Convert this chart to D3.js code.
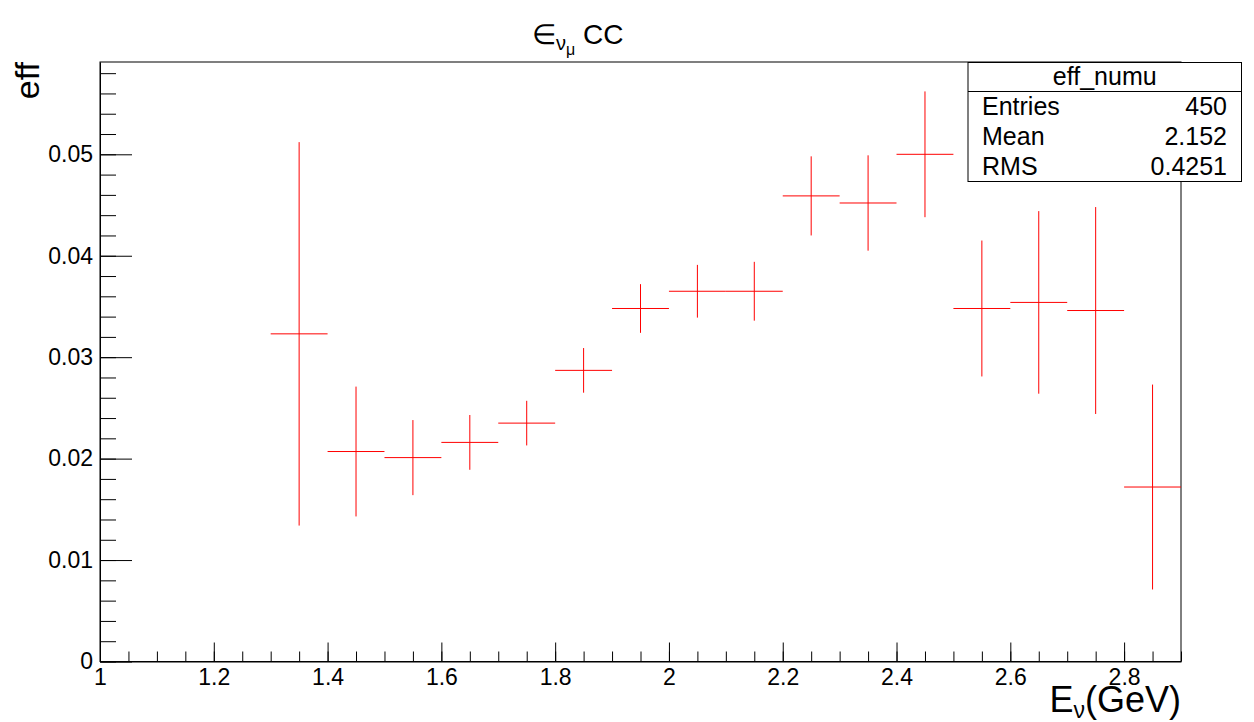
<!DOCTYPE html>
<html>
<head>
<meta charset="utf-8">
<script src="https://cdn.jsdelivr.net/npm/d3@7"></script>
<style>
  body { margin: 0; background: #fff; }
  text { font-family: "Liberation Sans", Arial, sans-serif; fill: #000; }
</style>
</head>
<body>
<div id="chart"></div>
<script>
// bin centres (GeV), efficiency and its error
const binCenters = [1.35, 1.45, 1.55, 1.65, 1.75, 1.85, 1.95, 2.05, 2.15, 2.25, 2.35, 2.45, 2.55, 2.65, 2.75, 2.85];
const effValues = [0.0323, 0.0207, 0.0201, 0.0216, 0.0235, 0.0287, 0.0348, 0.0365, 0.0365, 0.0459, 0.0452, 0.0500, 0.0348, 0.0354, 0.0346, 0.0172];
const effErrors = [0.0189, 0.0064, 0.0037, 0.0027, 0.0022, 0.0022, 0.0024, 0.0026, 0.0029, 0.0039, 0.0047, 0.0062, 0.0067, 0.0090, 0.0102, 0.0101];
const binWidth = 0.1;

const statLabels = ["Entries", "Mean", "RMS"];
const statValues = ["450", "2.152", "0.4251"];
const statTitle = "eff_numu";

const W = 1254, H = 722;
const pLeft = 100, pRight = 1181, pTop = 62, pBottom = 661.5;

const svg = d3.select("#chart").append("svg")
  .attr("width", W)
  .attr("height", H);

const x = d3.scaleLinear().domain([1, 2.9]).range([pLeft, pRight]);
const y = d3.scaleLinear().domain([0, 0.0591]).range([pBottom, pTop]);

// frame
svg.append("rect")
  .attr("x", pLeft).attr("y", pTop)
  .attr("width", pRight - pLeft).attr("height", pBottom - pTop)
  .attr("fill", "none").attr("stroke", "#000").attr("stroke-width", 1);

// x axis: minor then major ticks
const xMinor = d3.range(1, 2.9001, 0.05);
svg.append("g")
  .attr("transform", "translate(0," + pBottom + ")")
  .call(d3.axisBottom(x).tickValues(xMinor).tickSize(-10).tickSizeOuter(0).tickFormat(""))
  .call(g => g.select(".domain").attr("stroke", "#000"));

svg.append("g")
  .attr("transform", "translate(0," + pBottom + ")")
  .call(d3.axisBottom(x).tickValues(d3.range(1, 2.9001, 0.2)).tickSize(-19).tickSizeOuter(0)
    .tickPadding(7).tickFormat(d3.format("~g")))
  .call(g => g.select(".domain").remove())
  .call(g => g.selectAll("text").style("font-size", "23px").attr("fill", "#000"));

// y axis
svg.append("g")
  .attr("transform", "translate(" + pLeft + ",0)")
  .call(d3.axisLeft(y).tickValues(d3.range(0, 0.059, 0.002)).tickSize(-16).tickSizeOuter(0).tickFormat(""))
  .call(g => g.select(".domain").attr("stroke", "#000"));

svg.append("g")
  .attr("transform", "translate(" + pLeft + ",0)")
  .call(d3.axisLeft(y).tickValues(d3.range(0, 0.0501, 0.01)).tickSize(-32).tickSizeOuter(0)
    .tickPadding(7).tickFormat(d3.format("~g")))
  .call(g => g.select(".domain").remove())
  .call(g => g.selectAll("text").style("font-size", "23px").attr("fill", "#000"));

svg.selectAll(".tick line").attr("stroke", "#000");

// data: error crosses
const points = binCenters.map((c, i) => ({ c: c, v: effValues[i], e: effErrors[i] }));

const marks = svg.append("g").attr("stroke", "#ff0000").attr("stroke-width", 1);
marks.selectAll("line.h")
  .data(points).enter().append("line").attr("class", "h")
  .attr("x1", d => x(d.c - binWidth / 2)).attr("x2", d => x(d.c + binWidth / 2))
  .attr("y1", d => y(d.v)).attr("y2", d => y(d.v));
marks.selectAll("line.v")
  .data(points).enter().append("line").attr("class", "v")
  .attr("x1", d => x(d.c)).attr("x2", d => x(d.c))
  .attr("y1", d => y(d.v + d.e)).attr("y2", d => y(d.v - d.e));

// title
const title = svg.append("text")
  .attr("x", 532).attr("y", 44)
  .style("font-size", "28px");
title.append("tspan").text("\u2208");
title.append("tspan").attr("dy", 6).style("font-size", "20px").text("\u03bd");
title.append("tspan").attr("dy", 5).style("font-size", "16px").text("\u03bc");
title.append("tspan").attr("dy", -11).text(" CC");

// axis titles
const xt = svg.append("text")
  .attr("x", pRight).attr("y", 712)
  .attr("text-anchor", "end")
  .style("font-size", "36px");
xt.append("tspan").text("E");
xt.append("tspan").attr("dy", 6).style("font-size", "23px").text("\u03bd");
xt.append("tspan").attr("dy", -6).text("(GeV)");

svg.append("text")
  .attr("transform", "translate(39," + pTop + ") rotate(-90)")
  .attr("text-anchor", "end")
  .style("font-size", "34px")
  .text("eff");

// stats box
const sx0 = 968, sx1 = 1241.5, sy0 = 62.5, sy1 = 181.5, sHead = 91.5;
svg.append("rect")
  .attr("x", sx0).attr("y", sy0)
  .attr("width", sx1 - sx0).attr("height", sy1 - sy0)
  .attr("fill", "#fff").attr("stroke", "#000").attr("stroke-width", 1);
svg.append("line")
  .attr("x1", sx0).attr("x2", sx1).attr("y1", sHead).attr("y2", sHead)
  .attr("stroke", "#000");
svg.append("text")
  .attr("x", (sx0 + sx1) / 2).attr("y", 85)
  .attr("text-anchor", "middle")
  .style("font-size", "25px")
  .text(statTitle);

const rowY = [115, 145, 175];
statLabels.forEach((lab, i) => {
  svg.append("text").attr("x", 982).attr("y", rowY[i])
    .style("font-size", "25px").text(lab);
  svg.append("text").attr("x", 1227).attr("y", rowY[i])
    .attr("text-anchor", "end")
    .style("font-size", "25px").text(statValues[i]);
});
</script>
</body>
</html>
